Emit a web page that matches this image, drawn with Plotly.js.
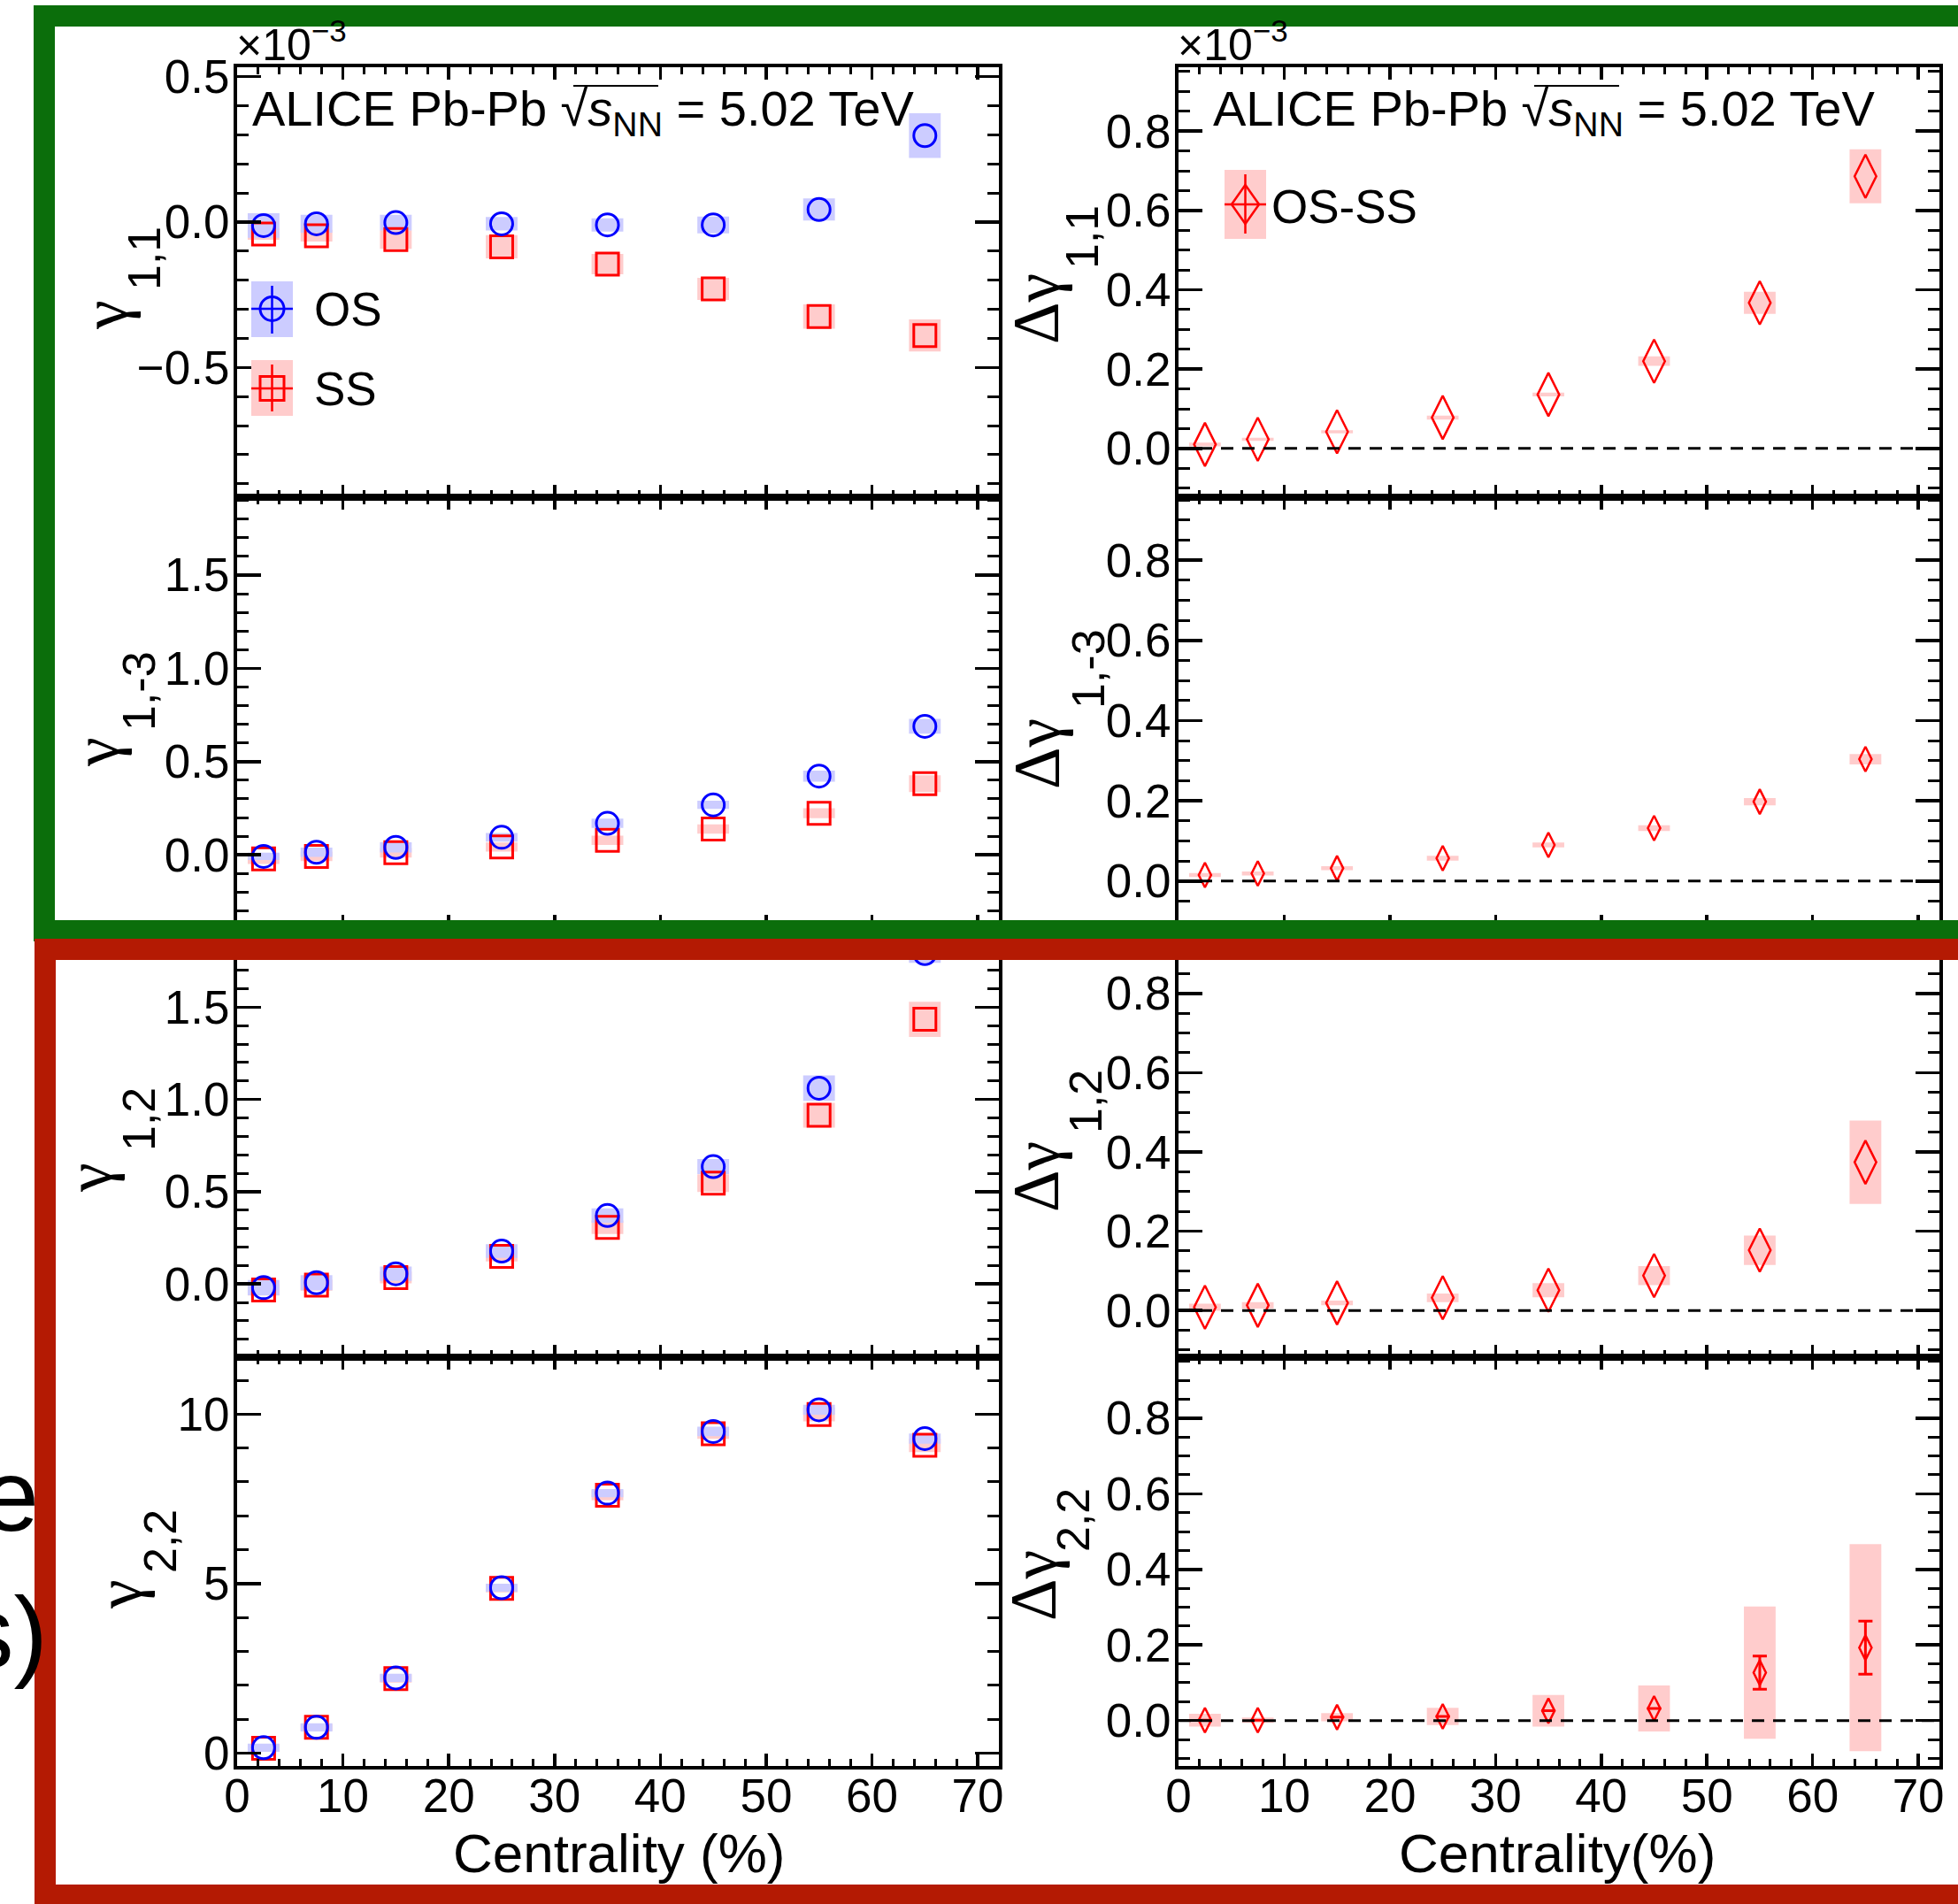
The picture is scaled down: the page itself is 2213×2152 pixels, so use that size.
<!DOCTYPE html>
<html><head><meta charset="utf-8">
<script src="https://cdn.plot.ly/plotly-3.0.1.min.js"></script>
<style>html,body{margin:0;padding:0;background:#fff;}</style>
</head><body>
<div id="chart" style="width:2213px;height:2152px"></div>
<script>
// ---------------- DATA (values in units of 1e-3) ----------------
const centrality = [2.5, 7.5, 15, 25, 35, 45, 55, 65];
const boxWidth = 3;

// gamma_{1,1}
const g11_OS      = [-0.012, -0.006, -0.002, -0.006, -0.010, -0.010, 0.043, 0.297];
const g11_OS_sys  = [0.042, 0.031, 0.027, 0.023, 0.023, 0.029, 0.038, 0.077];
const g11_SS      = [-0.041, -0.047, -0.060, -0.085, -0.145, -0.230, -0.325, -0.390];
const g11_SS_sys  = [0.020, 0.020, 0.032, 0.040, 0.035, 0.038, 0.042, 0.055];
// gamma_{1,-3}
const g13_OS      = [-0.008, 0.014, 0.040, 0.094, 0.169, 0.268, 0.422, 0.689];
const g13_OS_sys  = [0.020, 0.025, 0.027, 0.023, 0.025, 0.022, 0.030, 0.040];
const g13_SS      = [-0.022, -0.008, 0.011, 0.042, 0.078, 0.138, 0.223, 0.382];
const g13_SS_sys  = [0.027, 0.025, 0.025, 0.024, 0.025, 0.025, 0.027, 0.045];
// gamma_{1,2}
const g12_OS      = [-0.020, 0.007, 0.055, 0.178, 0.371, 0.636, 1.061, 1.790];
const g12_OS_sys  = [0.041, 0.041, 0.039, 0.037, 0.039, 0.041, 0.069, 0.050];
const g12_SS      = [-0.033, -0.006, 0.035, 0.150, 0.307, 0.546, 0.914, 1.434];
const g12_SS_sys  = [0.030, 0.030, 0.032, 0.028, 0.037, 0.048, 0.067, 0.095];
// gamma_{2,2}
const g22_OS      = [0.16, 0.76, 2.22, 4.88, 7.67, 9.49, 10.13, 9.28];
const g22_OS_sys  = [0.12, 0.12, 0.12, 0.12, 0.12, 0.14, 0.15, 0.15];
const g22_SS      = [0.14, 0.76, 2.20, 4.86, 7.61, 9.42, 9.99, 9.08];
const g22_SS_sys  = [0.10, 0.10, 0.12, 0.12, 0.15, 0.15, 0.20, 0.20];
// Delta gamma (OS-SS)
const dg11      = [0.010, 0.023, 0.042, 0.078, 0.136, 0.220, 0.367, 0.686];
const dg11_sys  = [0.005, 0.004, 0.004, 0.005, 0.005, 0.012, 0.028, 0.068];
const dg13      = [0.015, 0.019, 0.032, 0.057, 0.090, 0.132, 0.198, 0.304];
const dg13_sys  = [0.005, 0.005, 0.005, 0.006, 0.006, 0.007, 0.009, 0.013];
const dg12      = [0.008, 0.013, 0.019, 0.032, 0.051, 0.088, 0.152, 0.374];
const dg12_sys  = [0.009, 0.008, 0.006, 0.011, 0.018, 0.024, 0.037, 0.105];
const dg22      = [0.001, 0.001, 0.009, 0.011, 0.026, 0.032, 0.127, 0.193];
// statistical bars only visible (outside the marker) for the two most peripheral bins
const dg22_stat = [null, null, null, null, null, null, 0.044, 0.070];
const dg22_sys  = [0.017, 0.007, 0.011, 0.023, 0.042, 0.061, 0.175, 0.274];

// Text
const headerText = 'ALICE Pb-Pb √<i>s</i><sub>NN</sub> = 5.02 TeV';
const leftTitles  = [['γ','1,1'], ['γ','1,-3'], ['γ','1,2'], ['γ','2,2']];
const rightTitles = [['Δγ','1,1'], ['Δγ','1,-3'], ['Δγ','1,2'], ['Δγ','2,2']];
const xTitles = ['Centrality (%)', 'Centrality(%)'];
const legendLabels = ['OS', 'SS', 'OS-SS'];

// ---------------- STYLE / LAYOUT ----------------
const FONT = '"Liberation Sans", Arial, Helvetica, sans-serif';
const GREEK_FONT = '"Liberation Serif", "DejaVu Serif", serif';
const W = 2213, H = 2152;
const fx = p => p / W;
const fy = p => 1 - p / H;
const BLUE = '#0000ff', RED = '#ff0000';
const BLUE_BOX = 'rgb(204,204,255)', RED_BOX = 'rgb(255,204,204)';

const colX = [[268, 1129], [1332, 2192]];
const rowY = [[76, 562], [562, 1048], [1048, 1534], [1534, 1996]];
const leftRanges  = [[-0.946, 0.532], [-0.388, 1.917], [-0.397, 1.933], [-0.38, 11.68]];
const leftDtick   = [0.5, 0.5, 0.5, 5];
const leftMinor   = [0.1, 0.1, 0.1, 1];
const leftFormat  = ['.1f', '.1f', '.1f', 'd'];
const rightRanges = [[-0.123, 0.961], [-0.115, 0.957], [-0.118, 0.967], [-0.12, 0.961]];

const layout = {
  width: W, height: H,
  margin: {l: 0, r: 0, t: 0, b: 0},
  paper_bgcolor: '#fff', plot_bgcolor: 'rgba(0,0,0,0)',
  showlegend: false, barmode: 'overlay',
  font: {family: FONT, color: '#000'},
  shapes: [], annotations: []
};

function axisCommon() {
  return {
    showline: true, linewidth: 4, linecolor: '#000', mirror: 'ticks',
    ticks: 'inside', tickcolor: '#000', tickwidth: 3.5,
    showgrid: false, zeroline: false, fixedrange: true,
    tickfont: {family: FONT, size: 53, color: '#000'}
  };
}

for (let c = 0; c < 2; c++) {
  for (let r = 0; r < 4; r++) {
    const n = c * 4 + r + 1;
    const sfx = n === 1 ? '' : String(n);
    const xa = Object.assign(axisCommon(), {
      domain: [fx(colX[c][0]), fx(colX[c][1])],
      range: [0, 72], tick0: 0, dtick: 10, ticklen: 14,
      minor: {ticks: 'inside', dtick: 2, ticklen: 8, tickwidth: 3, tickcolor: '#000'},
      showticklabels: r === 3, ticklabelstandoff: -16, anchor: 'y' + sfx
    });
    const ya = Object.assign(axisCommon(), {
      domain: [fy(rowY[r][1]), fy(rowY[r][0])],
      range: c === 0 ? leftRanges[r] : rightRanges[r],
      tick0: 0,
      dtick: c === 0 ? leftDtick[r] : 0.2,
      tickformat: c === 0 ? leftFormat[r] : '.1f',
      ticklen: 27, ticklabelstandoff: -6,
      minor: {ticks: 'inside', dtick: c === 0 ? leftMinor[r] : 0.05, ticklen: 13, tickwidth: 3, tickcolor: '#000'},
      anchor: 'x' + sfx
    });
    layout['xaxis' + sfx] = xa;
    layout['yaxis' + sfx] = ya;
  }
}

// ---------------- TRACES ----------------
const traces = [];
function axId(n) { return n === 1 ? '' : String(n); }
function sysBox(n, vals, errs, color) {
  traces.push({
    type: 'bar', x: centrality,
    y: errs.map(e => 2 * e), base: vals.map((v, i) => v - errs[i]),
    width: boxWidth, marker: {color: color, line: {width: 0}},
    xaxis: 'x' + axId(n), yaxis: 'y' + axId(n), hoverinfo: 'skip'
  });
}
function points(n, vals, symbol, size, color, lw, stat) {
  const t = {
    type: 'scatter', mode: 'markers', x: centrality, y: vals,
    marker: {symbol: symbol, size: size, color: color, line: {width: lw, color: color}},
    xaxis: 'x' + axId(n), yaxis: 'y' + axId(n)
  };
  if (stat) t.error_y = {type: 'data', array: stat, visible: true, color: color, thickness: 3, width: 8};
  traces.push(t);
}
const leftSets = [
  [g11_OS, g11_OS_sys, g11_SS, g11_SS_sys],
  [g13_OS, g13_OS_sys, g13_SS, g13_SS_sys],
  [g12_OS, g12_OS_sys, g12_SS, g12_SS_sys],
  [g22_OS, g22_OS_sys, g22_SS, g22_SS_sys]
];
leftSets.forEach((s, r) => {
  const n = r + 1;
  sysBox(n, s[2], s[3], RED_BOX);
  points(n, s[2], 'square-open', 25, RED, 3);
  sysBox(n, s[0], s[1], BLUE_BOX);
  points(n, s[0], 'circle-open', 25, BLUE, 3);
});
const rightSets = [[dg11, dg11_sys, null, 35], [dg13, dg13_sys, null, 20], [dg12, dg12_sys, null, 35], [dg22, dg22_sys, dg22_stat, 20]];
rightSets.forEach((s, r) => {
  const n = r + 5;
  sysBox(n, s[0], s[1], RED_BOX);
  points(n, s[0], 'diamond-tall-open', s[3], RED, 2.5, s[2]);
  layout.shapes.push({type: 'line', xref: 'x' + axId(n) + ' domain', yref: 'y' + axId(n),
    x0: 0, x1: 1, y0: 0, y1: 0, line: {color: '#000', width: 3, dash: '14px,10px'}, layer: 'above'});
});

// ---------------- ANNOTATIONS ----------------
function ann(text, xp, yp, size, opts, family) {
  layout.annotations.push(Object.assign({
    text: text, xref: 'paper', yref: 'paper', x: fx(xp), y: fy(yp),
    xanchor: 'left', yanchor: 'middle', showarrow: false,
    font: {family: family || FONT, size: size, color: '#000'}
  }, opts || {}));
}
// headers
ann(headerText, 283, 127, 56);
ann(headerText, 1369, 127, 56);
// x10^-3
ann('×10<sup>−3</sup>', 265, 47, 50);
ann('×10<sup>−3</sup>', 1329, 47, 50);
// y titles: [main glyph centre x,y], [subscript centre x,y]
const leftTitlePos  = [[118, 356, 163, 292], [108, 850, 157, 781], [100, 1331, 157, 1265], [134, 1802, 181, 1742]];
const rightTitlePos = [[1171, 349, 1223, 268], [1172, 852, 1230, 756], [1171, 1330, 1227, 1245], [1168, 1792, 1213, 1718]];
[[leftTitles, leftTitlePos], [rightTitles, rightTitlePos]].forEach(([titles, pos]) => {
  titles.forEach((t, i) => {
    const p = pos[i];
    ann(t[0], p[0], p[1], 74, {textangle: -90, xanchor: 'center', yanchor: 'middle'}, GREEK_FONT);
    ann(t[1], p[2], p[3], 52, {textangle: -90, xanchor: 'center', yanchor: 'middle'});
  });
});
// x titles
ann(xTitles[0], 700, 2094, 62, {xanchor: 'center'});
ann(xTitles[1], 1760, 2094, 62, {xanchor: 'center'});
// legend texts
ann(legendLabels[0], 353, 349, 53);
ann(legendLabels[1], 353, 439, 53);
ann(legendLabels[2], 1435, 233, 53);
// fragments of slide text at the left edge
ann('e', 46, 1690, 115, {xanchor: 'right'});
ann('s)', 56, 1845, 115, {xanchor: 'right'});

// ---------------- LEGEND SYMBOLS + DECORATION ----------------
function pRect(x0, y0, x1, y1, fill) {
  layout.shapes.push({type: 'rect', xref: 'paper', yref: 'paper', x0: fx(x0), x1: fx(x1), y0: fy(y1), y1: fy(y0),
    fillcolor: fill, line: {width: 0}, layer: 'above'});
}
function pLine(x0, y0, x1, y1, color, w) {
  layout.shapes.push({type: 'line', xref: 'paper', yref: 'paper', x0: fx(x0), x1: fx(x1), y0: fy(y0), y1: fy(y1),
    line: {color: color, width: w}, layer: 'above'});
}
// OS
pRect(284, 318, 331, 381, BLUE_BOX);
pLine(307.5, 323, 307.5, 377, BLUE, 2.5);
pLine(284, 349, 331, 349, BLUE, 2.5);
layout.shapes.push({type: 'circle', xref: 'paper', yref: 'paper', x0: fx(294), x1: fx(321), y0: fy(362.5), y1: fy(335.5),
  line: {color: BLUE, width: 3}, layer: 'above'});
// SS
pRect(284, 407, 331, 470, RED_BOX);
pLine(307.5, 412, 307.5, 465, RED, 2.5);
pLine(284, 439, 331, 439, RED, 2.5);
layout.shapes.push({type: 'rect', xref: 'paper', yref: 'paper', x0: fx(294), x1: fx(321), y0: fy(452.5), y1: fy(425.5),
  line: {color: RED, width: 3}, layer: 'above'});
// OS-SS
pRect(1384, 192, 1431, 270, RED_BOX);
pLine(1407.5, 197, 1407.5, 264, RED, 2.5);
pLine(1384, 231, 1431, 231, RED, 2.5);
layout.shapes.push({type: 'path', xref: 'paper', yref: 'paper',
  path: `M ${fx(1407.5)} ${fy(209)} L ${fx(1423)} ${fy(231)} L ${fx(1407.5)} ${fy(253)} L ${fx(1392)} ${fy(231)} Z`,
  line: {color: RED, width: 2.5}, layer: 'above'});
// overline of sqrt
pLine(648, 97, 744, 97, '#000', 2);
pLine(1734, 97, 1830, 97, '#000', 2);
// hand-drawn frames
layout.shapes.push({type: 'rect', xref: 'paper', yref: 'paper', x0: fx(50), x1: fx(2245), y0: fy(1052), y1: fy(18),
  line: {color: '#0b6e0b', width: 24}, layer: 'above'});
layout.shapes.push({type: 'rect', xref: 'paper', yref: 'paper', x0: fx(51), x1: fx(2245), y0: fy(2142), y1: fy(1073),
  line: {color: '#b41a03', width: 24}, layer: 'above'});

Plotly.newPlot('chart', traces, layout, {staticPlot: true, displayModeBar: false});
</script>
</body></html>
